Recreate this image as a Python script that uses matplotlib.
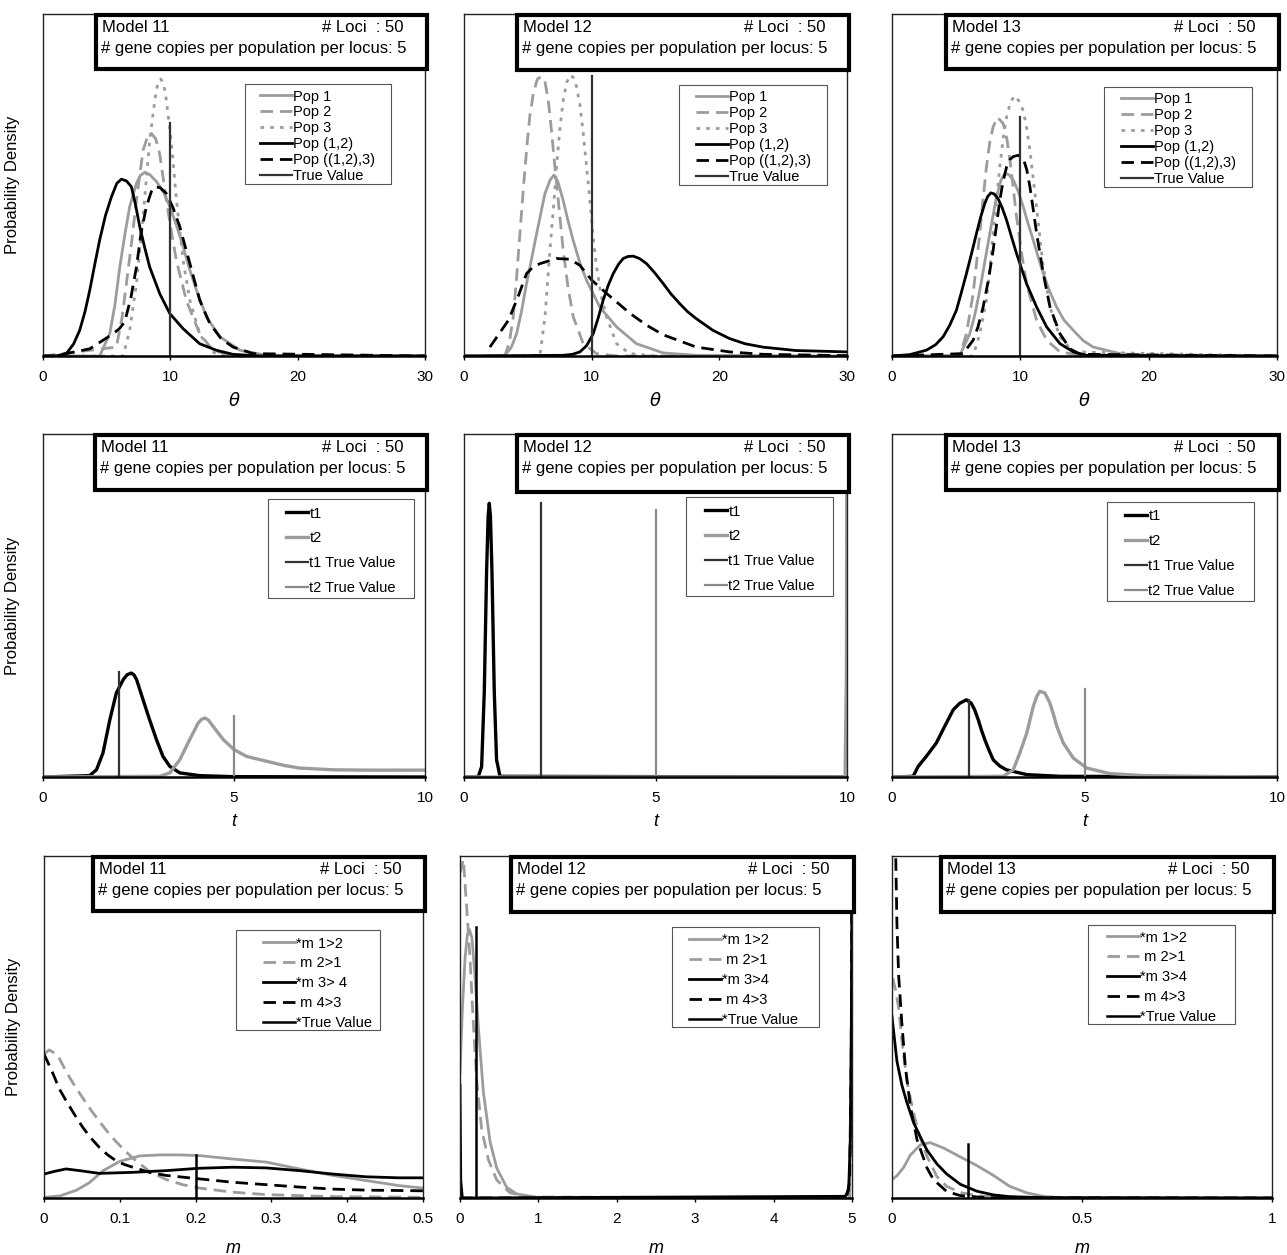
import matplotlib
matplotlib.use('Agg')
import matplotlib.pyplot as plt
from matplotlib.patches import Rectangle

plt.rcParams['font.family'] = ['Liberation Sans', 'DejaVu Sans']

# ---------------- DATA (y in relative density units) ----------------
model_names = ["Model 11", "Model 12", "Model 13"]
loci_text = "# Loci  : 50"
copies_text = "# gene copies per population per locus: 5"

theta_ticks = [0, 10, 20, 30]
t_ticks = [0, 5, 10]
m11_ticks = [0, 0.1, 0.2, 0.3, 0.4, 0.5]
m12_ticks = [0, 1, 2, 3, 4, 5]
m13_ticks = [0, 0.5, 1]
m11_ticklabels = ["0", "0.1", "0.2", "0.3", "0.4", "0.5"]
m13_ticklabels = ["0", "0.5", "1"]

theta_labels = ["Pop 1", "Pop 2", "Pop 3", "Pop (1,2)", "Pop ((1,2),3)", "True Value"]
t_labels = ["t1", "t2", "t1 True Value", "t2 True Value"]
m_labels_11 = ["*m 1>2", " m 2>1", "*m 3> 4", " m 4>3", "*True Value"]
m_labels_12 = ["*m 1>2", " m 2>1", "*m 3>4", " m 4>3", "*True Value"]

theta_true = 10
t1_true = 2
t2_true = 5
m_true = 0.2

# Model 11, theta
m11_pop1_x = [0, 4.45, 5.24, 5.65, 6.03, 6.45, 6.81, 7.34, 7.65, 7.99, 8.4, 8.91, 9.45, 9.96, 10.5, 11.0, 11.5, 12.05, 12.84, 13.9, 15.46, 17.55, 30]
m11_pop1_y = [0, 0, 0.065, 0.15, 0.26, 0.36, 0.437, 0.505, 0.528, 0.537, 0.530, 0.51, 0.48, 0.437, 0.38, 0.32, 0.255, 0.193, 0.114, 0.056, 0.017, 0.002, 0]
m11_pop2_x = [0, 5.76, 6.2, 6.55, 6.95, 7.34, 7.86, 8.2, 8.51, 8.85, 9.17, 9.69, 10.1, 10.48, 11.27, 12.31, 13.36, 14.93, 30]
m11_pop2_y = [0, 0.026, 0.11, 0.212, 0.33, 0.456, 0.602, 0.640, 0.651, 0.635, 0.59, 0.454, 0.36, 0.278, 0.161, 0.065, 0.016, 0.002, 0]
m11_pop3_x = [0, 6.29, 6.81, 7.34, 7.86, 8.38, 8.78, 9.0, 9.25, 9.48, 9.69, 10.09, 10.48, 11.0, 11.53, 12.31, 13.1, 13.89, 30]
m11_pop3_y = [0, 0, 0.075, 0.212, 0.407, 0.631, 0.748, 0.795, 0.810, 0.795, 0.748, 0.622, 0.456, 0.28, 0.163, 0.065, 0.016, 0.002, 0]
m11_pop12_x = [0, 1.0, 1.83, 2.4, 2.88, 3.3, 3.67, 4.05, 4.45, 4.9, 5.37, 5.8, 6.16, 6.55, 6.94, 7.25, 7.6, 8.0, 8.38, 9.17, 9.96, 11.0, 12.3, 13.6, 14.9, 17, 30]
m11_pop12_y = [0, 0, 0.007, 0.035, 0.075, 0.13, 0.192, 0.265, 0.339, 0.41, 0.465, 0.505, 0.517, 0.512, 0.495, 0.445, 0.378, 0.315, 0.26, 0.182, 0.124, 0.08, 0.036, 0.017, 0.005, 0, 0]
m11_pop123_x = [0, 1.2, 1.83, 3.67, 5.5, 6.0, 6.42, 6.9, 7.34, 7.7, 8.12, 8.5, 8.78, 9.2, 9.69, 10.2, 10.74, 11.53, 12.31, 13.1, 14.0, 14.93, 16.5, 30]
m11_pop123_y = [0, 0, 0.007, 0.021, 0.065, 0.08, 0.10, 0.17, 0.26, 0.36, 0.437, 0.480, 0.495, 0.492, 0.475, 0.435, 0.378, 0.271, 0.163, 0.095, 0.05, 0.026, 0.007, 0]
m11_theta_true_h = 0.68

# Model 12, theta
m12_pop1_x = [0, 3.21, 3.7, 4.12, 4.5, 4.9, 5.3, 5.69, 6.34, 6.75, 7.04, 7.35, 7.77, 8.15, 8.56, 9.1, 9.6, 10.64, 11.95, 13.51, 15.6, 18.2, 30]
m12_pop1_y = [0, 0.002, 0.025, 0.065, 0.13, 0.212, 0.285, 0.358, 0.475, 0.515, 0.529, 0.51, 0.455, 0.395, 0.337, 0.27, 0.221, 0.143, 0.085, 0.036, 0.009, 0.002, 0]
m12_pop2_x = [0, 3.21, 3.55, 3.86, 4.12, 4.38, 4.65, 4.9, 5.15, 5.43, 5.75, 6.08, 6.35, 6.6, 6.85, 7.12, 7.45, 7.77, 8.15, 8.56, 9.34, 10.38, 12, 30]
m12_pop2_y = [0, 0.002, 0.04, 0.114, 0.23, 0.358, 0.49, 0.602, 0.70, 0.768, 0.81, 0.817, 0.8, 0.748, 0.66, 0.553, 0.43, 0.309, 0.2, 0.114, 0.036, 0.007, 0, 0]
m12_pop3_x = [0, 5.95, 6.34, 6.73, 7.0, 7.25, 7.5, 7.77, 8.05, 8.3, 8.55, 8.82, 9.1, 9.34, 9.6, 9.86, 10.1, 10.38, 10.75, 11.17, 11.95, 12.99, 15, 30]
m12_pop3_y = [0, 0.002, 0.114, 0.309, 0.43, 0.553, 0.66, 0.748, 0.8, 0.821, 0.815, 0.787, 0.73, 0.651, 0.555, 0.456, 0.355, 0.261, 0.175, 0.114, 0.036, 0.007, 0, 0]
m12_pop12_x = [0, 7.77, 8.5, 9.08, 9.6, 10.12, 10.5, 10.9, 11.3, 11.69, 12.1, 12.47, 12.85, 13.25, 13.75, 14.3, 14.9, 15.6, 16.2, 16.9, 17.5, 18.2, 19.5, 20.8, 22.0, 23.4, 26.0, 30]
m12_pop12_y = [0, 0.002, 0.005, 0.012, 0.03, 0.065, 0.11, 0.163, 0.207, 0.241, 0.268, 0.285, 0.291, 0.292, 0.285, 0.27, 0.245, 0.212, 0.182, 0.153, 0.13, 0.109, 0.075, 0.051, 0.036, 0.026, 0.016, 0.012]
m12_pop123_x = [2.03, 3.47, 4.2, 4.9, 5.4, 5.95, 7.25, 8.3, 9.08, 10.0, 11.17, 12.99, 14.3, 15.6, 18.2, 20.8, 23.4, 30]
m12_pop123_y = [0.026, 0.104, 0.17, 0.241, 0.26, 0.27, 0.285, 0.283, 0.265, 0.222, 0.183, 0.125, 0.09, 0.062, 0.026, 0.012, 0.005, 0.001]
m12_theta_true_h = 0.819

# Model 13, theta
m13_pop1_x = [0, 5.28, 6.06, 6.45, 6.84, 7.23, 7.62, 8.14, 8.5, 8.8, 9.1, 9.45, 9.85, 10.23, 10.6, 11.01, 11.4, 11.79, 12.3, 12.83, 13.4, 14.13, 14.9, 15.69, 17.77, 19.85, 30]
m13_pop1_y = [0, 0.002, 0.065, 0.12, 0.192, 0.275, 0.358, 0.465, 0.515, 0.534, 0.530, 0.515, 0.48, 0.436, 0.388, 0.338, 0.288, 0.241, 0.188, 0.143, 0.105, 0.075, 0.045, 0.026, 0.007, 0.001, 0]
m13_pop2_x = [0, 5.28, 5.8, 6.32, 6.84, 7.1, 7.36, 7.62, 7.88, 8.22, 8.66, 8.95, 9.19, 9.45, 9.71, 10.1, 10.49, 11.27, 12.05, 13.09, 15, 30]
m13_pop2_y = [0, 0.002, 0.065, 0.182, 0.358, 0.46, 0.553, 0.625, 0.67, 0.698, 0.68, 0.635, 0.572, 0.49, 0.406, 0.3, 0.211, 0.104, 0.046, 0.012, 0, 0]
m13_pop3_x = [0, 6.32, 6.84, 7.36, 7.62, 7.88, 8.14, 8.4, 8.66, 8.93, 9.25, 9.58, 9.9, 10.23, 10.5, 10.75, 11.0, 11.27, 11.53, 11.79, 12.31, 13.09, 14.13, 30]
m13_pop3_y = [0, 0, 0.065, 0.163, 0.25, 0.358, 0.455, 0.553, 0.635, 0.699, 0.745, 0.761, 0.745, 0.717, 0.665, 0.6, 0.52, 0.434, 0.345, 0.26, 0.143, 0.055, 0.012, 0]
m13_pop12_x = [0, 1.38, 2.68, 3.4, 3.98, 4.5, 5.02, 5.4, 5.8, 6.2, 6.58, 6.9, 7.23, 7.45, 7.7, 7.95, 8.27, 8.6, 8.93, 9.3, 9.71, 10.1, 10.49, 11.27, 12.05, 13.09, 14.13, 15.17, 30]
m13_pop12_y = [0, 0.004, 0.017, 0.033, 0.056, 0.09, 0.134, 0.185, 0.241, 0.3, 0.358, 0.405, 0.446, 0.466, 0.477, 0.474, 0.46, 0.432, 0.397, 0.35, 0.299, 0.255, 0.211, 0.143, 0.085, 0.036, 0.012, 0.002, 0]
m13_pop123_x = [0, 5.54, 6.32, 6.7, 7.1, 7.5, 7.88, 8.15, 8.4, 8.65, 8.93, 9.2, 9.45, 9.84, 10.23, 10.5, 10.75, 11.0, 11.27, 11.53, 11.79, 12.31, 13.09, 13.87, 14.65, 30]
m13_pop123_y = [0, 0.007, 0.046, 0.085, 0.143, 0.22, 0.309, 0.385, 0.455, 0.51, 0.553, 0.575, 0.583, 0.587, 0.577, 0.545, 0.494, 0.43, 0.358, 0.3, 0.241, 0.143, 0.065, 0.021, 0.005, 0]
m13_theta_true_h = 0.70

# Model 11, t
m11_t1_x = [0, 1.22, 1.4, 1.57, 1.75, 1.92, 2.1, 2.2, 2.31, 2.38, 2.45, 2.62, 2.79, 2.97, 3.14, 3.32, 3.58, 4.1, 4.98, 10]
m11_t1_y = [0, 0.004, 0.021, 0.07, 0.167, 0.245, 0.284, 0.298, 0.303, 0.298, 0.284, 0.225, 0.167, 0.109, 0.06, 0.031, 0.012, 0.004, 0.001, 0]
m11_t2_x = [0, 3.06, 3.32, 3.58, 3.84, 4.06, 4.15, 4.24, 4.33, 4.45, 4.72, 5.0, 5.33, 5.85, 6.3, 6.72, 7.6, 8.47, 10]
m11_t2_y = [0, 0.002, 0.012, 0.05, 0.109, 0.157, 0.168, 0.172, 0.166, 0.148, 0.109, 0.08, 0.06, 0.046, 0.034, 0.026, 0.021, 0.02, 0.02]
m11_t1_true_h = 0.306
m11_t2_true_h = 0.177

# Model 12, t
m12_t1_x = [0, 0.37, 0.46, 0.53, 0.59, 0.63, 0.66, 0.69, 0.73, 0.79, 0.85, 0.94, 10]
m12_t1_y = [0, 0, 0.03, 0.25, 0.6, 0.76, 0.798, 0.76, 0.6, 0.25, 0.05, 0.002, 0]
m12_t2_x = [0, 9.95, 9.985, 10.0]
m12_t2_y = [0, 0, 0.3, 1.2]
m12_t1_true_h = 0.798
m12_t2_true_h = 0.779

# Model 13, t
m13_t1_x = [0, 0.55, 0.68, 0.89, 1.15, 1.37, 1.59, 1.76, 1.93, 2.06, 2.15, 2.24, 2.32, 2.41, 2.52, 2.63, 2.8, 2.97, 3.5, 4.36, 10]
m13_t1_y = [0, 0.002, 0.031, 0.06, 0.099, 0.148, 0.196, 0.215, 0.225, 0.215, 0.195, 0.167, 0.138, 0.109, 0.078, 0.05, 0.032, 0.021, 0.007, 0.002, 0]
m13_t2_x = [0, 2.89, 3.15, 3.32, 3.5, 3.67, 3.76, 3.84, 3.97, 4.1, 4.2, 4.28, 4.45, 4.71, 5.06, 5.66, 6.53, 7.83, 10]
m13_t2_y = [0, 0.002, 0.021, 0.07, 0.128, 0.206, 0.235, 0.25, 0.245, 0.216, 0.18, 0.148, 0.099, 0.055, 0.026, 0.01, 0.004, 0.002, 0]
m13_t1_true_h = 0.225
m13_t2_true_h = 0.256

# Model 11, m
m11_m12_x = [0, 0.021, 0.043, 0.06, 0.078, 0.1, 0.126, 0.153, 0.179, 0.205, 0.249, 0.293, 0.337, 0.381, 0.425, 0.469, 0.5]
m11_m12_y = [0.002, 0.006, 0.023, 0.045, 0.08, 0.107, 0.123, 0.126, 0.126, 0.124, 0.114, 0.105, 0.085, 0.066, 0.051, 0.036, 0.029]
m11_m21_x = [0, 0.007, 0.018, 0.029, 0.04, 0.051, 0.062, 0.073, 0.084, 0.095, 0.106, 0.117, 0.139, 0.161, 0.183, 0.205, 0.249, 0.293, 0.381, 0.5]
m11_m21_y = [0.421, 0.433, 0.418, 0.37, 0.33, 0.293, 0.257, 0.224, 0.193, 0.165, 0.14, 0.117, 0.078, 0.054, 0.039, 0.029, 0.017, 0.01, 0.004, 0.002]
m11_m34_x = [0, 0.014, 0.029, 0.047, 0.073, 0.117, 0.161, 0.205, 0.249, 0.293, 0.337, 0.381, 0.425, 0.469, 0.5]
m11_m34_y = [0.07, 0.078, 0.085, 0.08, 0.072, 0.075, 0.08, 0.087, 0.09, 0.088, 0.08, 0.07, 0.062, 0.059, 0.059]
m11_m43_x = [0, 0.012, 0.02, 0.029, 0.04, 0.051, 0.062, 0.073, 0.084, 0.095, 0.106, 0.117, 0.139, 0.161, 0.205, 0.249, 0.293, 0.337, 0.381, 0.425, 0.5]
m11_m43_y = [0.421, 0.363, 0.32, 0.285, 0.245, 0.207, 0.175, 0.148, 0.126, 0.109, 0.098, 0.09, 0.075, 0.066, 0.056, 0.046, 0.039, 0.032, 0.026, 0.023, 0.021]
m11_m_true_h = 0.126

# Model 12, m
m12_m12_x = [0, 0.03, 0.064, 0.094, 0.12, 0.153, 0.19, 0.234, 0.298, 0.383, 0.468, 0.596, 0.723, 0.979, 4.97, 4.99, 5.0]
m12_m12_y = [0.365, 0.55, 0.7, 0.77, 0.785, 0.76, 0.65, 0.5, 0.31, 0.165, 0.088, 0.031, 0.012, 0.002, 0, 0.5, 0.5]
m12_m21_x = [0, 0.043, 0.085, 0.128, 0.17, 0.213, 0.277, 0.362, 0.468, 0.638, 0.894, 5.0]
m12_m21_y = [0.95, 0.99, 0.85, 0.7, 0.51, 0.345, 0.2, 0.112, 0.053, 0.015, 0.003, 0]
m12_m34_x = [0, 0.01, 0.03, 4.915, 4.957, 4.979, 4.991, 5.0]
m12_m34_y = [0.33, 0.05, 0, 0.005, 0.024, 0.17, 0.46, 1.05]
m12_m43_x = [0, 4.93, 4.97, 4.99, 5.0]
m12_m43_y = [0, 0, 0.05, 0.4, 1.05]
m12_m_true_h = 0.791

# Model 13, m
m13_m12_x = [0, 0.013, 0.031, 0.048, 0.074, 0.1, 0.136, 0.18, 0.223, 0.267, 0.31, 0.355, 0.398, 0.44, 0.53, 1.0]
m13_m12_y = [0.054, 0.065, 0.09, 0.125, 0.155, 0.162, 0.146, 0.12, 0.095, 0.066, 0.034, 0.015, 0.005, 0.001, 0, 0]
m13_m21_x = [0.002, 0.009, 0.0175, 0.026, 0.039, 0.053, 0.07, 0.092, 0.118, 0.144, 0.18, 0.223, 0.285, 1.0]
m13_m21_y = [0.642, 0.61, 0.556, 0.46, 0.345, 0.267, 0.19, 0.122, 0.063, 0.034, 0.016, 0.007, 0.001, 0]
m13_m34_x = [0, 0.013, 0.026, 0.039, 0.057, 0.074, 0.092, 0.118, 0.144, 0.18, 0.223, 0.267, 0.31, 0.4, 1.0]
m13_m34_y = [0.53, 0.4, 0.33, 0.28, 0.22, 0.18, 0.14, 0.1, 0.07, 0.04, 0.02, 0.009, 0.004, 0.001, 0]
m13_m43_x = [0.009, 0.013, 0.0175, 0.026, 0.035, 0.048, 0.066, 0.092, 0.109, 0.144, 0.18, 0.25, 1.0]
m13_m43_y = [1.05, 0.8, 0.65, 0.51, 0.385, 0.27, 0.17, 0.088, 0.054, 0.019, 0.007, 0.001, 0]
m13_m_true_h = 0.159

# ---------------- STYLES ----------------
GRAY = '#9c9c9c'
DARK = '#333333'
MIDGRAY = '#8a8a8a'
LW = 2.0
LEG_FS = 10.5
LEG_FS_PX = LEG_FS * 100 / 72
styles = {
    'g_solid': dict(color=GRAY, lw=LW, ls='-'),
    'g_dash': dict(color=GRAY, lw=LW, dashes=(4.5, 2.5)),
    'g_dot': dict(color=GRAY, lw=LW, dashes=(1.3, 2.2)),
    'k_solid': dict(color='black', lw=LW, ls='-'),
    'k_dash': dict(color='black', lw=LW, dashes=(4.5, 2.5)),
    'true_dark': dict(color=DARK, lw=1.6, ls='-'),
    'true_k': dict(color='black', lw=1.8, ls='-'),
    't1': dict(color='black', lw=2.4, ls='-'),
    't2': dict(color=GRAY, lw=2.4, ls='-'),
    't2_true': dict(color=MIDGRAY, lw=1.6, ls='-'),
}

W, H = 1287, 1255
fig = plt.figure(figsize=(W / 100, H / 100), dpi=100)


def px_axes(left, top, right, bottom):
    return [left / W, 1 - bottom / H, (right - left) / W, (bottom - top) / H]


def make_panel(rect_px, xlim, ticks, ticklabels, xlabel, series, trues, labels,
               model, leg_box, leg_hx, leg_row1, leg_hlen, leg_spacing,
               box_left_px, box_h_px, ylabel=False, xlabel_pad=6):
    ax = fig.add_axes(px_axes(*rect_px))
    left, top, right, bottom = rect_px
    aw, ah = right - left, bottom - top

    def fx(px):
        return (px - left) / aw

    def fy(py):
        return (bottom - py) / ah

    ax.set_xlim(*xlim)
    ax.set_ylim(0, 1)
    ax.set_yticks([])
    ax.set_xticks(ticks)
    if ticklabels is not None:
        ax.set_xticklabels(ticklabels)
    ax.tick_params(axis='x', direction='out', length=3, width=1, pad=7, labelsize=11)
    for s in ['left', 'top', 'right']:
        ax.spines[s].set_linewidth(1.0)
        ax.spines[s].set_color('#222222')
    ax.spines['bottom'].set_linewidth(1.8)
    ax.spines['bottom'].set_color('black')
    handles = []
    for (x, y, st) in series:
        h, = ax.plot(x, y, **styles[st])
        handles.append(h)
    for (xv, hv, st) in trues:
        h, = ax.plot([xv, xv], [0, hv], **styles[st])
        handles.append(h)
    # legend frame
    lb_l, lb_t, lb_r, lb_b = leg_box
    ax.add_patch(Rectangle((fx(lb_l), fy(lb_b)), fx(lb_r) - fx(lb_l), fy(lb_t) - fy(lb_b),
                           transform=ax.transAxes, facecolor='white', edgecolor='#555555',
                           lw=0.8, zorder=4))
    leg = ax.legend(handles, labels, loc='upper left',
                    bbox_to_anchor=(fx(leg_hx), fy(leg_row1 - 5.5)),
                    fontsize=LEG_FS, frameon=False, borderpad=0,
                    handlelength=leg_hlen / LEG_FS_PX, handletextpad=0.1,
                    labelspacing=leg_spacing, borderaxespad=0)
    leg.set_zorder(5)
    # info box
    bx0 = fx(box_left_px)
    bx1 = 1 + 2.0 / aw
    by0 = 1 - box_h_px / ah
    by1 = 1 - 1.0 / ah
    ax.add_patch(Rectangle((bx0, by0), bx1 - bx0, by1 - by0, transform=ax.transAxes,
                           facecolor='white', edgecolor='black', lw=3, clip_on=False, zorder=6))
    ax.text(bx0 + 6 / aw, 1 - 14 / ah, model, transform=ax.transAxes, fontsize=12,
            ha='left', va='center', zorder=7)
    ax.text(bx1 - 24 / aw, 1 - 14 / ah, loci_text, transform=ax.transAxes, fontsize=12,
            ha='right', va='center', zorder=7)
    ax.text(bx0 + 5 / aw, 1 - 34 / ah, copies_text, transform=ax.transAxes, fontsize=12,
            ha='left', va='center', zorder=7)
    ax.set_xlabel(xlabel, fontsize=13, style='italic', labelpad=xlabel_pad)
    if ylabel:
        ax.set_ylabel("Probability Density", fontsize=12)
        ax.yaxis.set_label_coords(-23 / aw, 0.5)
    return ax


theta_styles = ['g_solid', 'g_dash', 'g_dot', 'k_solid', 'k_dash']
m_styles = ['g_solid', 'g_dash', 'k_solid', 'k_dash']

# Row 1: theta
make_panel((43, 14, 425, 356), (0, 30), theta_ticks, None, r'$\theta$',
           list(zip([m11_pop1_x, m11_pop2_x, m11_pop3_x, m11_pop12_x, m11_pop123_x],
                    [m11_pop1_y, m11_pop2_y, m11_pop3_y, m11_pop12_y, m11_pop123_y], theta_styles)),
           [(theta_true, m11_theta_true_h, 'true_dark')], theta_labels, model_names[0],
           (245, 84, 391, 184), 260, 95, 32, 0.13, 96, 55, ylabel=True)
make_panel((464, 14, 847, 356), (0, 30), theta_ticks, None, r'$\theta$',
           list(zip([m12_pop1_x, m12_pop2_x, m12_pop3_x, m12_pop12_x, m12_pop123_x],
                    [m12_pop1_y, m12_pop2_y, m12_pop3_y, m12_pop12_y, m12_pop123_y], theta_styles)),
           [(theta_true, m12_theta_true_h, 'true_dark')], theta_labels, model_names[1],
           (679, 85, 827, 185), 696, 96, 32, 0.13, 517, 56)
make_panel((892, 14, 1277, 356), (0, 30), theta_ticks, None, r'$\theta$',
           list(zip([m13_pop1_x, m13_pop2_x, m13_pop3_x, m13_pop12_x, m13_pop123_x],
                    [m13_pop1_y, m13_pop2_y, m13_pop3_y, m13_pop12_y, m13_pop123_y], theta_styles)),
           [(theta_true, m13_theta_true_h, 'true_dark')], theta_labels, model_names[2],
           (1104, 87, 1252, 187), 1121, 98, 32, 0.13, 946, 55)

# Row 2: t
make_panel((43, 434, 425, 777), (0, 10), t_ticks, None, 't',
           [(m11_t1_x, m11_t1_y, 't1'), (m11_t2_x, m11_t2_y, 't2')],
           [(t1_true, m11_t1_true_h, 'true_dark'), (t2_true, m11_t2_true_h, 't2_true')],
           t_labels, model_names[0], (268, 499, 414, 598), 286, 512, 22, 0.75, 95, 56, ylabel=True)
make_panel((464, 434, 847, 777), (0, 10), t_ticks, None, 't',
           [(m12_t1_x, m12_t1_y, 't1'), (m12_t2_x, m12_t2_y, 't2')],
           [(t1_true, m12_t1_true_h, 'true_dark'), (t2_true, m12_t2_true_h, 't2_true')],
           t_labels, model_names[1], (686, 497, 833, 596), 705, 510, 22, 0.75, 517, 58)
make_panel((892, 434, 1277, 777), (0, 10), t_ticks, None, 't',
           [(m13_t1_x, m13_t1_y, 't1'), (m13_t2_x, m13_t2_y, 't2')],
           [(t1_true, m13_t1_true_h, 'true_dark'), (t2_true, m13_t2_true_h, 't2_true')],
           t_labels, model_names[2], (1107, 502, 1254, 601), 1125, 515, 22, 0.75, 946, 56)

# Row 3: m
make_panel((44, 856, 423, 1198), (0, 0.5), m11_ticks, m11_ticklabels, 'm',
           list(zip([m11_m12_x, m11_m21_x, m11_m34_x, m11_m43_x],
                    [m11_m12_y, m11_m21_y, m11_m34_y, m11_m43_y], m_styles)),
           [(m_true, m11_m_true_h, 'true_k')], m_labels_11, model_names[0],
           (236, 930, 380, 1030), 263, 942, 32, 0.4, 93, 55, ylabel=True, xlabel_pad=10)
make_panel((460, 856, 852, 1198), (0, 5), m12_ticks, None, 'm',
           list(zip([m12_m12_x, m12_m21_x, m12_m34_x, m12_m43_x],
                    [m12_m12_y, m12_m21_y, m12_m34_y, m12_m43_y], m_styles)),
           [(m_true, m12_m_true_h, 'true_k')], m_labels_12, model_names[1],
           (672, 927, 819, 1027), 689, 939, 32, 0.4, 511, 56, xlabel_pad=10)
make_panel((892, 856, 1272, 1198), (0, 1), m13_ticks, m13_ticklabels, 'm',
           list(zip([m13_m12_x, m13_m21_x, m13_m34_x, m13_m43_x],
                    [m13_m12_y, m13_m21_y, m13_m34_y, m13_m43_y], m_styles)),
           [(m_true, m13_m_true_h, 'true_k')], m_labels_12, model_names[2],
           (1088, 925, 1235, 1024), 1107, 936, 32, 0.4, 941, 56, xlabel_pad=10)

fig.savefig('out.png', dpi=100, facecolor='white')
